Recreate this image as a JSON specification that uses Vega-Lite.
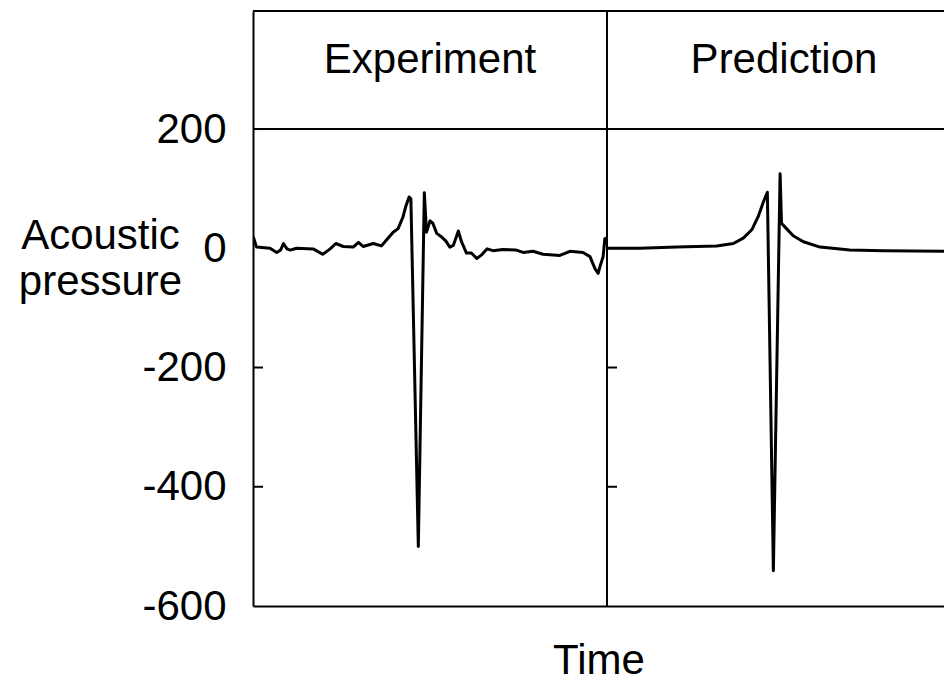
{
  "$schema": "https://vega.github.io/schema/vega-lite/v6.json",
  "autosize": "none",
  "width": 691,
  "height": 595,
  "padding": {"left": 253, "top": 11, "right": 0, "bottom": 76},
  "background": "white",
  "config": {
    "font": "Liberation Sans",
    "view": {"stroke": null}
  },
  "datasets": {
    "traces": [
      {"series": "Experiment", "t": 0.001, "v": 19},
      {"series": "Experiment", "t": 0.010, "v": 2},
      {"series": "Experiment", "t": 0.048, "v": 0},
      {"series": "Experiment", "t": 0.067, "v": -7},
      {"series": "Experiment", "t": 0.078, "v": -3},
      {"series": "Experiment", "t": 0.086, "v": 8},
      {"series": "Experiment", "t": 0.096, "v": -1},
      {"series": "Experiment", "t": 0.105, "v": -3},
      {"series": "Experiment", "t": 0.123, "v": 0},
      {"series": "Experiment", "t": 0.170, "v": -1},
      {"series": "Experiment", "t": 0.197, "v": -10},
      {"series": "Experiment", "t": 0.218, "v": -1},
      {"series": "Experiment", "t": 0.234, "v": 8},
      {"series": "Experiment", "t": 0.255, "v": 3},
      {"series": "Experiment", "t": 0.283, "v": 2},
      {"series": "Experiment", "t": 0.298, "v": 10},
      {"series": "Experiment", "t": 0.311, "v": 3},
      {"series": "Experiment", "t": 0.340, "v": 8},
      {"series": "Experiment", "t": 0.363, "v": 4},
      {"series": "Experiment", "t": 0.377, "v": 14},
      {"series": "Experiment", "t": 0.396, "v": 27},
      {"series": "Experiment", "t": 0.410, "v": 33},
      {"series": "Experiment", "t": 0.424, "v": 53},
      {"series": "Experiment", "t": 0.432, "v": 71},
      {"series": "Experiment", "t": 0.441, "v": 86},
      {"series": "Experiment", "t": 0.446, "v": 83},
      {"series": "Experiment", "t": 0.467, "v": -500},
      {"series": "Experiment", "t": 0.484, "v": 93},
      {"series": "Experiment", "t": 0.490, "v": 27},
      {"series": "Experiment", "t": 0.500, "v": 46},
      {"series": "Experiment", "t": 0.508, "v": 42},
      {"series": "Experiment", "t": 0.519, "v": 25},
      {"series": "Experiment", "t": 0.533, "v": 19},
      {"series": "Experiment", "t": 0.545, "v": 12},
      {"series": "Experiment", "t": 0.556, "v": 2},
      {"series": "Experiment", "t": 0.566, "v": 5},
      {"series": "Experiment", "t": 0.573, "v": 17},
      {"series": "Experiment", "t": 0.580, "v": 29},
      {"series": "Experiment", "t": 0.589, "v": 11},
      {"series": "Experiment", "t": 0.603, "v": -8},
      {"series": "Experiment", "t": 0.617, "v": -8},
      {"series": "Experiment", "t": 0.632, "v": -17},
      {"series": "Experiment", "t": 0.646, "v": -11},
      {"series": "Experiment", "t": 0.661, "v": -1},
      {"series": "Experiment", "t": 0.678, "v": -4},
      {"series": "Experiment", "t": 0.706, "v": -2},
      {"series": "Experiment", "t": 0.744, "v": -3},
      {"series": "Experiment", "t": 0.763, "v": -7},
      {"series": "Experiment", "t": 0.791, "v": -5},
      {"series": "Experiment", "t": 0.819, "v": -10},
      {"series": "Experiment", "t": 0.867, "v": -12},
      {"series": "Experiment", "t": 0.895, "v": -5},
      {"series": "Experiment", "t": 0.932, "v": -7},
      {"series": "Experiment", "t": 0.952, "v": -14},
      {"series": "Experiment", "t": 0.966, "v": -34},
      {"series": "Experiment", "t": 0.975, "v": -42},
      {"series": "Experiment", "t": 0.980, "v": -31},
      {"series": "Experiment", "t": 0.989, "v": -14},
      {"series": "Experiment", "t": 0.994, "v": 16},
      {"series": "Experiment", "t": 0.999, "v": 17},
      {"series": "Prediction", "t": 1.000, "v": 0},
      {"series": "Prediction", "t": 1.093, "v": 0},
      {"series": "Prediction", "t": 1.197, "v": 2},
      {"series": "Prediction", "t": 1.310, "v": 4},
      {"series": "Prediction", "t": 1.357, "v": 8},
      {"series": "Prediction", "t": 1.385, "v": 17},
      {"series": "Prediction", "t": 1.409, "v": 31},
      {"series": "Prediction", "t": 1.427, "v": 53},
      {"series": "Prediction", "t": 1.442, "v": 78},
      {"series": "Prediction", "t": 1.453, "v": 94},
      {"series": "Prediction", "t": 1.470, "v": -541},
      {"series": "Prediction", "t": 1.489, "v": 125},
      {"series": "Prediction", "t": 1.493, "v": 42},
      {"series": "Prediction", "t": 1.507, "v": 33},
      {"series": "Prediction", "t": 1.526, "v": 21},
      {"series": "Prediction", "t": 1.555, "v": 11},
      {"series": "Prediction", "t": 1.602, "v": 2},
      {"series": "Prediction", "t": 1.686, "v": -3},
      {"series": "Prediction", "t": 1.781, "v": -4},
      {"series": "Prediction", "t": 1.952, "v": -5},
      {"series": "Prediction", "t": 2.000, "v": -5}
    ],
    "panels": [
      {"panel": "Experiment", "t": 0.5},
      {"panel": "Prediction", "t": 1.5}
    ],
    "panelTicks": [
      {"t": 0, "v": 200},
      {"t": 0, "v": -200},
      {"t": 0, "v": -400},
      {"t": 1, "v": -200},
      {"t": 1, "v": -400}
    ]
  },
  "layer": [
    {
      "data": {"name": "traces"},
      "mark": {"type": "line", "color": "black", "strokeWidth": 3, "clip": true, "interpolate": "linear", "strokeJoin": "round"},
      "encoding": {
        "x": {
          "field": "t",
          "type": "quantitative",
          "scale": {"domain": [0, 1.952], "nice": false, "zero": false},
          "axis": {
            "title": "Time",
            "titleFontSize": 42,
            "titleFontWeight": "normal",
            "titleColor": "black",
            "titlePadding": 34,
            "labels": false,
            "ticks": false,
            "domain": true,
            "domainColor": "black",
            "domainWidth": 2,
            "grid": false
          }
        },
        "y": {
          "field": "v",
          "type": "quantitative",
          "scale": {"domain": [-600, 398], "nice": false, "zero": false},
          "axis": {
            "values": [200, 0, -200, -400, -600],
            "labelExpr": "datum.value < 0 ? '-' + abs(datum.value) : '' + datum.value",
            "title": ["Acoustic", "pressure"],
            "titleAngle": 0,
            "titleAlign": "center",
            "titleBaseline": "alphabetic",
            "titleX": -153,
            "titleY": 237,
            "titleLineHeight": 46,
            "titleFontSize": 42,
            "titleFontWeight": "normal",
            "titleColor": "black",
            "labelFontSize": 42,
            "labelColor": "black",
            "labelPadding": 27,
            "ticks": false,
            "domain": true,
            "domainColor": "black",
            "domainWidth": 2,
            "grid": false
          }
        },
        "detail": {"field": "series"}
      }
    },
    {
      "data": {"values": [{}]},
      "mark": {"type": "rule", "color": "black", "strokeWidth": 2},
      "encoding": {"y": {"datum": 200}}
    },
    {
      "data": {"values": [{}]},
      "mark": {"type": "rule", "color": "black", "strokeWidth": 2},
      "encoding": {"y": {"datum": 398}}
    },
    {
      "data": {"values": [{}]},
      "mark": {"type": "rule", "color": "black", "strokeWidth": 2},
      "encoding": {"x": {"datum": 1}}
    },
    {
      "data": {"name": "panelTicks"},
      "mark": {"type": "rule", "color": "black", "strokeWidth": 2, "x2Offset": 10},
      "encoding": {
        "x": {"field": "t", "type": "quantitative"},
        "x2": {"field": "t"},
        "y": {"field": "v", "type": "quantitative"}
      }
    },
    {
      "data": {"name": "panels"},
      "mark": {"type": "text", "fontSize": 42, "color": "black", "align": "center", "baseline": "middle"},
      "encoding": {
        "x": {"field": "t", "type": "quantitative"},
        "y": {"datum": 316},
        "text": {"field": "panel"}
      }
    }
  ]
}
